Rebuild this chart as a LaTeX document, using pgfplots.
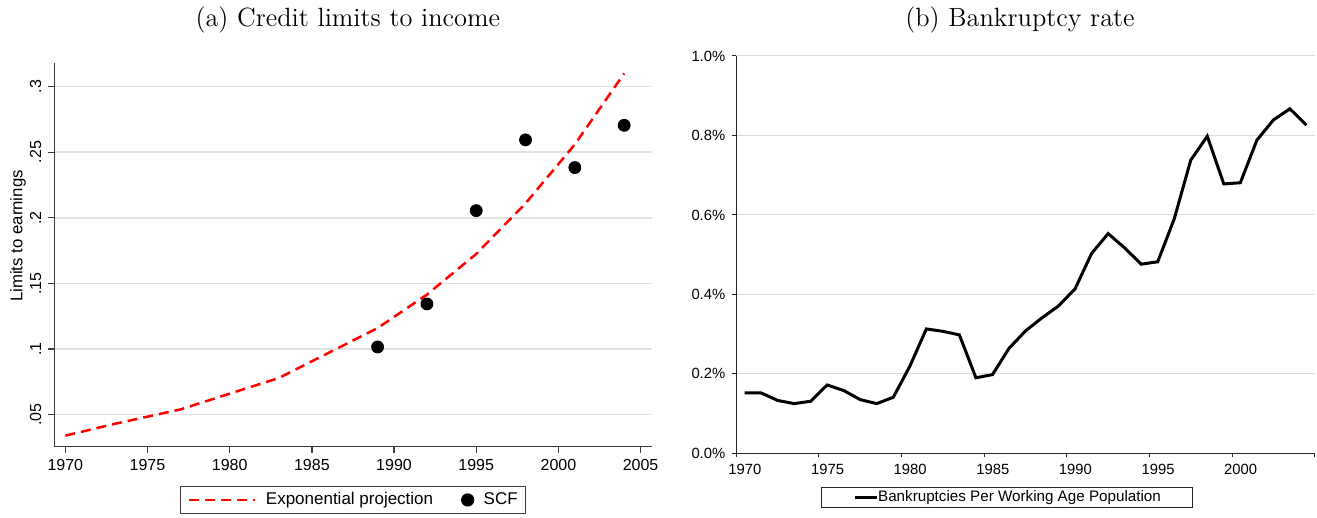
\documentclass[border=0pt]{standalone}
\usepackage{pgfplots}
\pgfplotsset{compat=1.18}
\usepackage{fontspec}
\newfontfamily\arial{Liberation Sans}
\definecolor{gridgray}{RGB}{226,226,226}
\definecolor{axgray}{RGB}{60,60,60}

% legend images
\pgfplotsset{
  projleg/.style={legend image code/.code={\draw[##1] (0pt,0pt) -- (32.6pt,0pt);}},
  dotleg/.style={legend image code/.code={\draw[##1] plot coordinates {(0pt,0pt)};}},
  bkleg/.style={legend image code/.code={\draw[##1] (0pt,0pt) -- (11pt,0pt);}},
}

% (a) exponential projection of limits to earnings
\pgfplotstableread{
year proj
1970 0.034
1973 0.043
1977 0.054
1980 0.066
1983 0.078
1986 0.097
1989 0.116
1992 0.1415
1995 0.1725
1998 0.211
2001 0.256
2004 0.310
}\projtable

% (a) SCF observations
\pgfplotstableread{
year scf
1989 0.1016
1992 0.1344
1995 0.2055
1998 0.2594
2001 0.2383
2004 0.2705
}\scftable

% (b) bankruptcies per working age population, percent
\pgfplotstableread{
year rate
1970.5 0.152
1971.5 0.152
1972.5 0.133
1973.5 0.125
1974.5 0.131
1975.5 0.172
1976.5 0.158
1977.5 0.135
1978.5 0.125
1979.5 0.141
1980.5 0.219
1981.5 0.313
1982.5 0.307
1983.5 0.298
1984.5 0.190
1985.5 0.198
1986.5 0.264
1987.5 0.308
1988.5 0.341
1989.5 0.371
1990.5 0.414
1991.5 0.503
1992.5 0.553
1993.5 0.517
1994.5 0.476
1995.5 0.482
1996.5 0.590
1997.5 0.738
1998.5 0.798
1999.5 0.678
2000.5 0.681
2001.5 0.788
2002.5 0.839
2003.5 0.867
2004.5 0.826
}\bktable

\begin{document}
\begin{tikzpicture}
\path[use as bounding box] (0pt,0pt) rectangle (658.5pt,259pt);

\node[anchor=base, font=\fontsize{13.2}{15}\selectfont] at (173.9pt,245.5pt) {(a) Credit limits to income};
\node[anchor=base, font=\fontsize{13.2}{15}\selectfont] at (510pt,245.5pt) {(b) Bankruptcy rate};
\node[rotate=90, font=\arial\fontsize{8.4}{10}\selectfont] at (9pt,141pt) {Limits to earnings};

\begin{axis}[
  at={(27.15pt,35.65pt)}, anchor=south west,
  width=298.65pt, height=191.85pt, scale only axis,
  xmin=1969.33, xmax=2005.67, ymin=0.0256, ymax=0.318,
  axis x line*=bottom, axis y line*=left,
  axis line style={axgray, line width=0.65pt},
  tick align=outside, major tick length=3pt,
  tick style={axgray, line width=0.65pt},
  xtick={1970,1975,1980,1985,1990,1995,2000,2005},
  xticklabels={1970,1975,1980,1985,1990,1995,2000,2005},
  ytick={0.05,0.1,0.15,0.2,0.25,0.3},
  yticklabels={.05,.1,.15,.2,.25,.3},
  ticklabel style={font=\arial\fontsize{8}{9.6}\selectfont},
  yticklabel style={rotate=90, anchor=south},
  ymajorgrids, grid style={gridgray, line width=0.8pt},
  legend columns=2,
  legend style={at={(axis description cs:0.5,0)}, anchor=north, yshift=-19.5pt,
    draw=axgray, line width=0.6pt, inner xsep=3.8pt, inner ysep=3pt,
    nodes={inner sep=0pt}, font=\arial\fontsize{8.5}{10}\selectfont,
    /tikz/every odd column/.append style={column sep=5pt},
    /tikz/every even column/.append style={column sep=14.25pt}},
]
\addplot[red, line width=1.25pt, dash pattern=on 5pt off 3pt, projleg]
  table[x=year, y=proj] {\projtable};
\addlegendentry{Exponential projection}
\addplot[only marks, mark=*, mark size=3pt, black, dotleg]
  table[x=year, y=scf] {\scftable};
\addlegendentry{SCF}
\end{axis}

\begin{axis}[
  at={(368.15pt,32.35pt)}, anchor=south west,
  width=289.2pt, height=198.65pt, scale only axis,
  xmin=1970, xmax=2005, ymin=0, ymax=1.0,
  axis x line*=bottom, axis y line*=left,
  axis line style={black!85, line width=0.5pt},
  tick align=outside, major tick length=2pt,
  tick style={black!85, line width=0.5pt},
  xtick={1970,1975,1980,1985,1990,1995,2000,2005},
  xticklabels={1970,1975,1980,1985,1990,1995,2000,},
  xticklabel style={xshift=4.3pt},
  ytick={0,0.2,0.4,0.6,0.8,1.0},
  yticklabels={0.0\%,0.2\%,0.4\%,0.6\%,0.8\%,1.0\%},
  ticklabel style={font=\arial\fontsize{7.4}{9}\selectfont},
  ymajorgrids, grid style={black!15, line width=0.5pt},
  legend style={at={(axis description cs:0.468,0)}, anchor=north, yshift=-16.7pt,
    draw=black!85, line width=0.5pt, inner xsep=16pt, inner ysep=1.6pt,
    nodes={inner sep=0pt}, font=\arial\fontsize{7.6}{9}\selectfont},
]
\addplot[black, line width=1.5pt, bkleg]
  table[x=year, y=rate] {\bktable};
\addlegendentry{Bankruptcies Per Working Age Population}
\end{axis}
\end{tikzpicture}
\end{document}
